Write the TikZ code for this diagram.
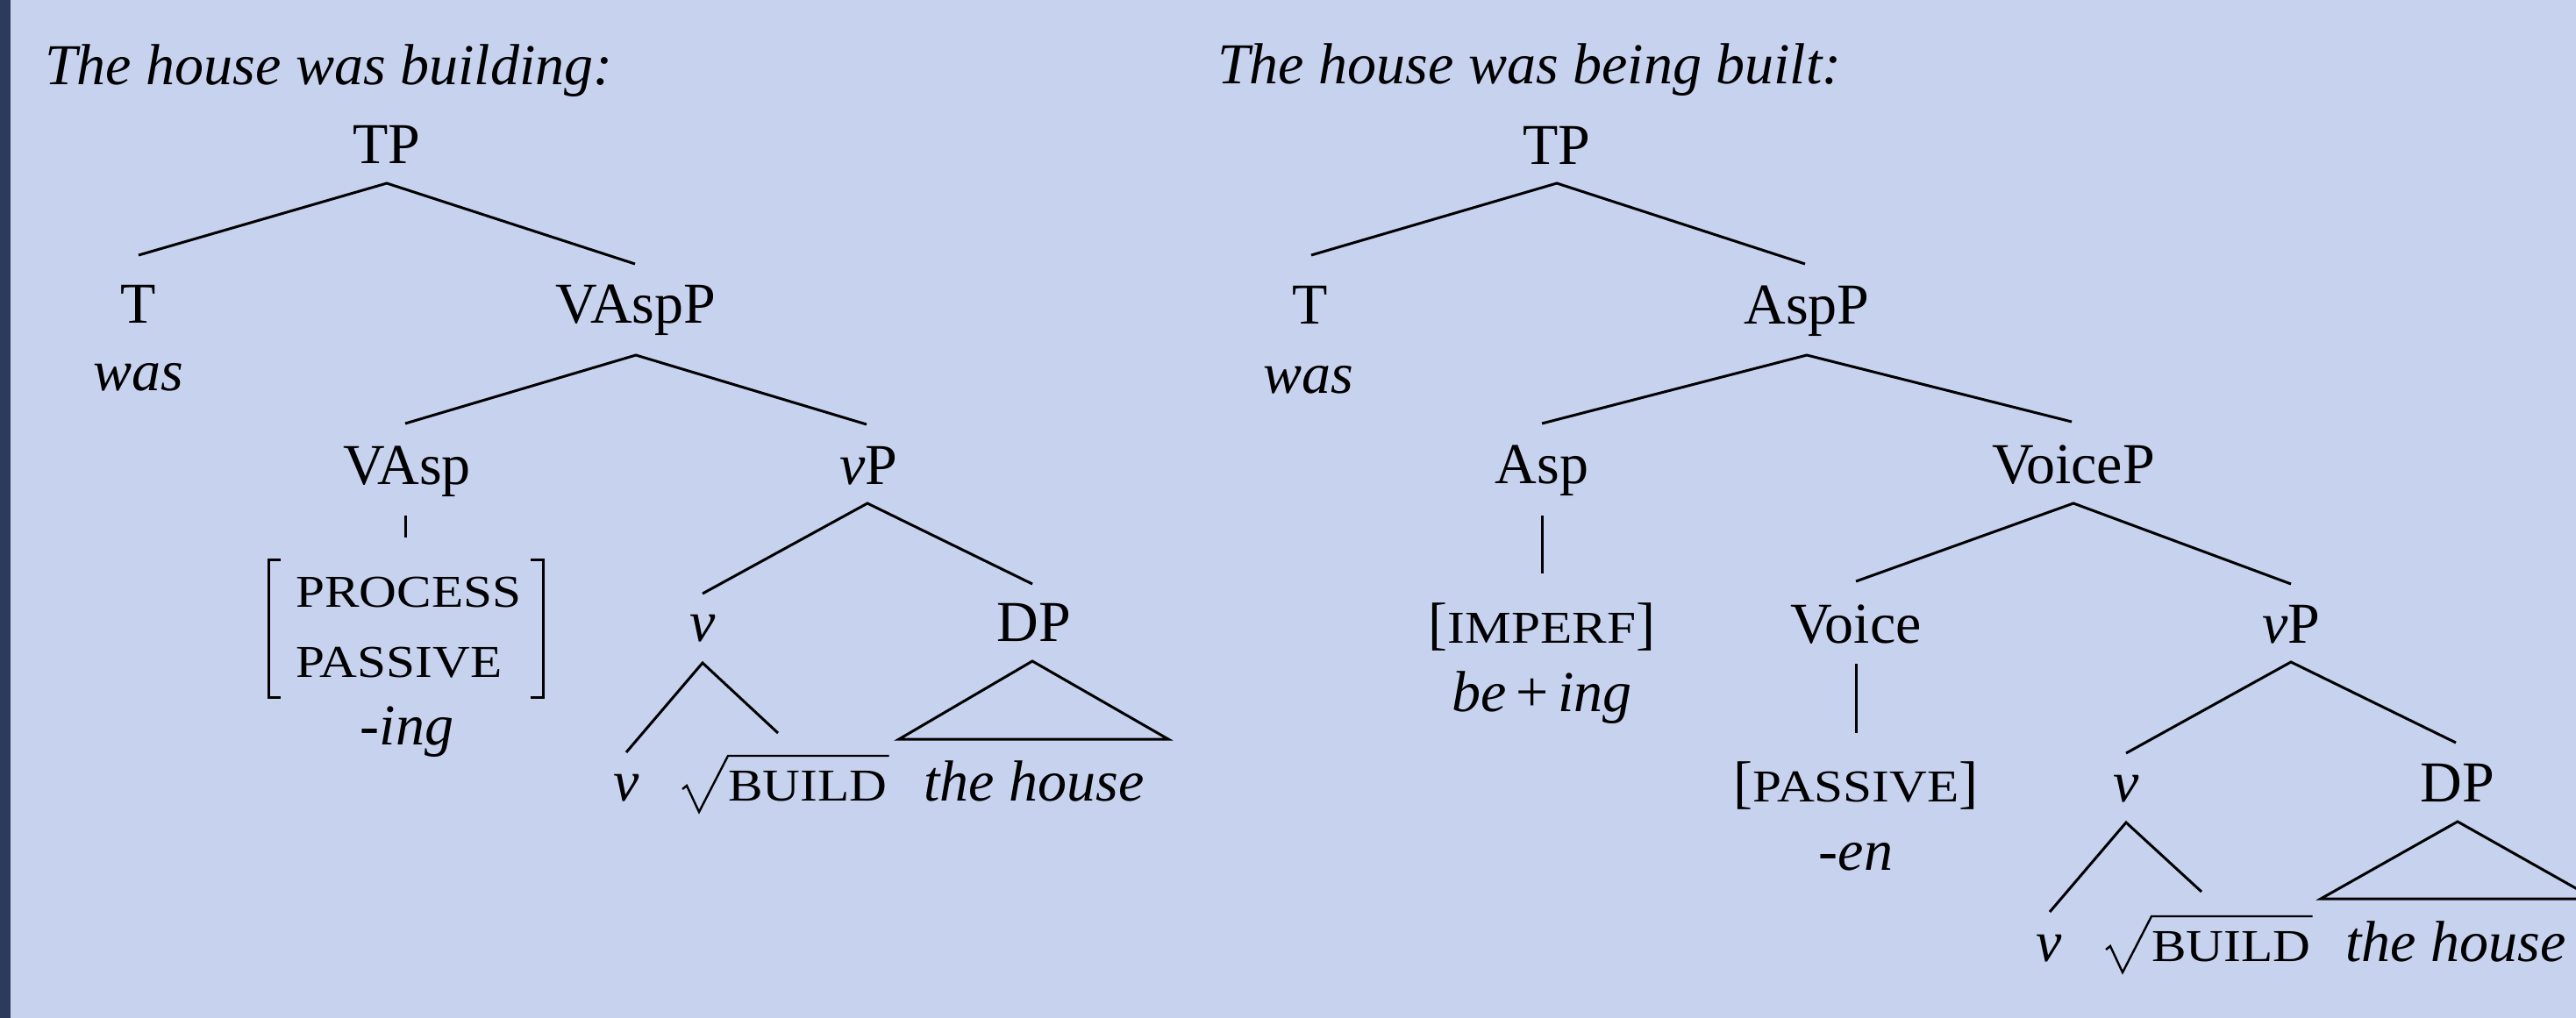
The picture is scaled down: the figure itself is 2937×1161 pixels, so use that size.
\documentclass[tikz,border=0pt]{standalone}
\usepackage{fontspec}
\setmainfont{Liberation Serif}
\newfontfamily\scfam[FakeStretch=1.14]{Liberation Serif}
\usetikzlibrary{calc}
\definecolor{bgblue}{HTML}{C7D2EF}
\definecolor{stripe}{HTML}{2E3A5C}
\newcommand{\mysc}[1]{{\scfam\fontsize{52}{60}\selectfont #1}}
\begin{document}
\begin{tikzpicture}[x=1pt,y=-1pt,
  lbl/.style={inner sep=0pt,anchor=base,font={\fontsize{66}{79}\selectfont}},
  lblw/.style={lbl,anchor=base west},
  edge/.style={line width=3pt},
  radical/.style={line width=2.4pt,line join=miter}]
\useasboundingbox (0,0) rectangle (2937,1161);
\clip (0,0) rectangle (2937,1161);
\fill[bgblue] (0,0) rectangle (2937,1161);
\fill[stripe] (0,0) rectangle (12,1161);

% ---------------- left tree ----------------
\node[lblw] (title1) at (51,97) {\textit{The house was building:}};
\node[lbl] (TP1) at (441,187) {TP};
\node[lbl] (T1) at (158,368) {T};
\node[lbl] (was1) at (158,445) {\textit{was}};
\node[lbl] (VAspP) at (725,368) {VAspP};
\node[lbl] (VAsp) at (464,552) {VAsp};
\node[lbl] (vP1) at (990,552) {\textit{v}P};
\node[lblw] (proc) at (337,692) {\mysc{PROCESS}};
\node[lblw] (pass) at (337,772) {\mysc{PASSIVE}};
\node[lbl] (ing) at (464,849) {\textit{-ing}};
\node[lbl] (v1) at (801,731) {\textit{v}};
\node[lbl] (DP1) at (1179,731) {DP};
\node[lbl] (vb1) at (714,913) {\textit{v}};
\node[lblw] (B1) at (830,913) {\mysc{BUILD}};
\node[lbl] (th1) at (1179,913) {\textit{the house}};

\draw[edge] ($(T1.base)+(0,-77)$) -- ($(TP1.base)+(0,22)$) -- ($(VAspP.base)+(-1,-67)$);
\draw[edge] ($(VAsp.base)+(-2,-69)$) -- ($(VAspP.base)+(0,37)$) -- ($(vP1.base)+(-2,-68)$);
\draw[edge] ($(VAsp.base)+(-2,36)$) -- ($(VAsp.base)+(-2,61)$);
\draw[edge] ($(v1.base)+(0,-54)$) -- ($(vP1.base)+(-1,22)$) -- ($(DP1.base)+(-2,-65)$);
\draw[edge] ($(vb1.base)+(0,-55)$) -- ($(v1.base)+(0,25)$) -- ($(B1.base west)+(57,-77)$);
\draw[edge,line join=miter] ($(DP1.base)+(-2,23)$) -- ($(th1.base)+(-154,-70)$) -- ($(th1.base)+(153,-70)$) -- cycle;
% feature brackets
\draw[edge] ($(proc.base west)+(-17,-54)$) -- ($(proc.base west)+(-31,-54)$) -- ($(proc.base west)+(-31,103)$) -- ($(proc.base west)+(-17,103)$);
\draw[edge] ($(proc.base west)+(268,-54)$) -- ($(proc.base west)+(282,-54)$) -- ($(proc.base west)+(282,103)$) -- ($(proc.base west)+(268,103)$);
% radical
\draw[radical] ($(B1.base west)+(-52,-13)$) -- ($(B1.base west)+(-47,-17)$) -- ($(B1.base west)+(-33,13)$) -- ($(B1.base west)+(0,-51)$) -- ($(B1.base east)+(2,-51)$);

% ---------------- right tree ----------------
\node[lblw] (title2) at (1388,96) {\textit{The house was being built:}};
\node[lbl] (TP2) at (1775,188) {TP};
\node[lbl] (T2) at (1494,369) {T};
\node[lbl] (was2) at (1492,448) {\textit{was}};
\node[lbl] (AspP) at (2060,369) {AspP};
\node[lbl] (Asp) at (1758,551) {Asp};
\node[lbl] (VoiceP) at (2364,551) {VoiceP};
\node[lbl] (imperf) at (1758,733) {[\mysc{IMPERF}]};
\node[lbl] (being) at (1758,811) {\textit{be}\,+\,\textit{ing}};
\node[lbl] (Voice) at (2116,733) {Voice};
\node[lbl] (vP2) at (2612,733) {\textit{v}P};
\node[lbl] (passv) at (2116,914) {[\mysc{PASSIVE}]};
\node[lbl] (en) at (2116,992) {\textit{-en}};
\node[lbl] (v2) at (2424,914) {\textit{v}};
\node[lbl] (DP2) at (2802,914) {DP};
\node[lbl] (vb2) at (2336,1096) {\textit{v}};
\node[lblw] (B2) at (2453,1096) {\mysc{BUILD}};
\node[lbl] (th2) at (2800,1096) {\textit{the house}};

\draw[edge] ($(T2.base)+(1,-78)$) -- ($(TP2.base)+(0,21)$) -- ($(AspP.base)+(-2,-68)$);
\draw[edge] ($(Asp.base)+(0,-68)$) -- ($(AspP.base)+(0,36)$) -- ($(VoiceP.base)+(-2,-70)$);
\draw[edge] ($(Asp.base)+(0,37)$) -- ($(Asp.base)+(0,103)$);
\draw[edge] ($(Voice.base)+(0,-70)$) -- ($(VoiceP.base)+(0,23)$) -- ($(vP2.base)+(0,-67)$);
\draw[edge] ($(Voice.base)+(0,24)$) -- ($(Voice.base)+(0,103)$);
\draw[edge] ($(v2.base)+(0,-55)$) -- ($(vP2.base)+(0,22)$) -- ($(DP2.base)+(-2,-67)$);
\draw[edge] ($(vb2.base)+(1,-56)$) -- ($(v2.base)+(0,24)$) -- ($(B2.base west)+(57,-79)$);
\draw[edge,line join=miter] ($(DP2.base)+(0,23)$) -- ($(th2.base)+(-154,-71)$) -- ($(th2.base)+(158,-71)$) -- cycle;
\draw[radical] ($(B2.base west)+(-52,-13)$) -- ($(B2.base west)+(-47,-17)$) -- ($(B2.base west)+(-33,13)$) -- ($(B2.base west)+(0,-51)$) -- ($(B2.base east)+(2,-51)$);
\end{tikzpicture}
\end{document}
